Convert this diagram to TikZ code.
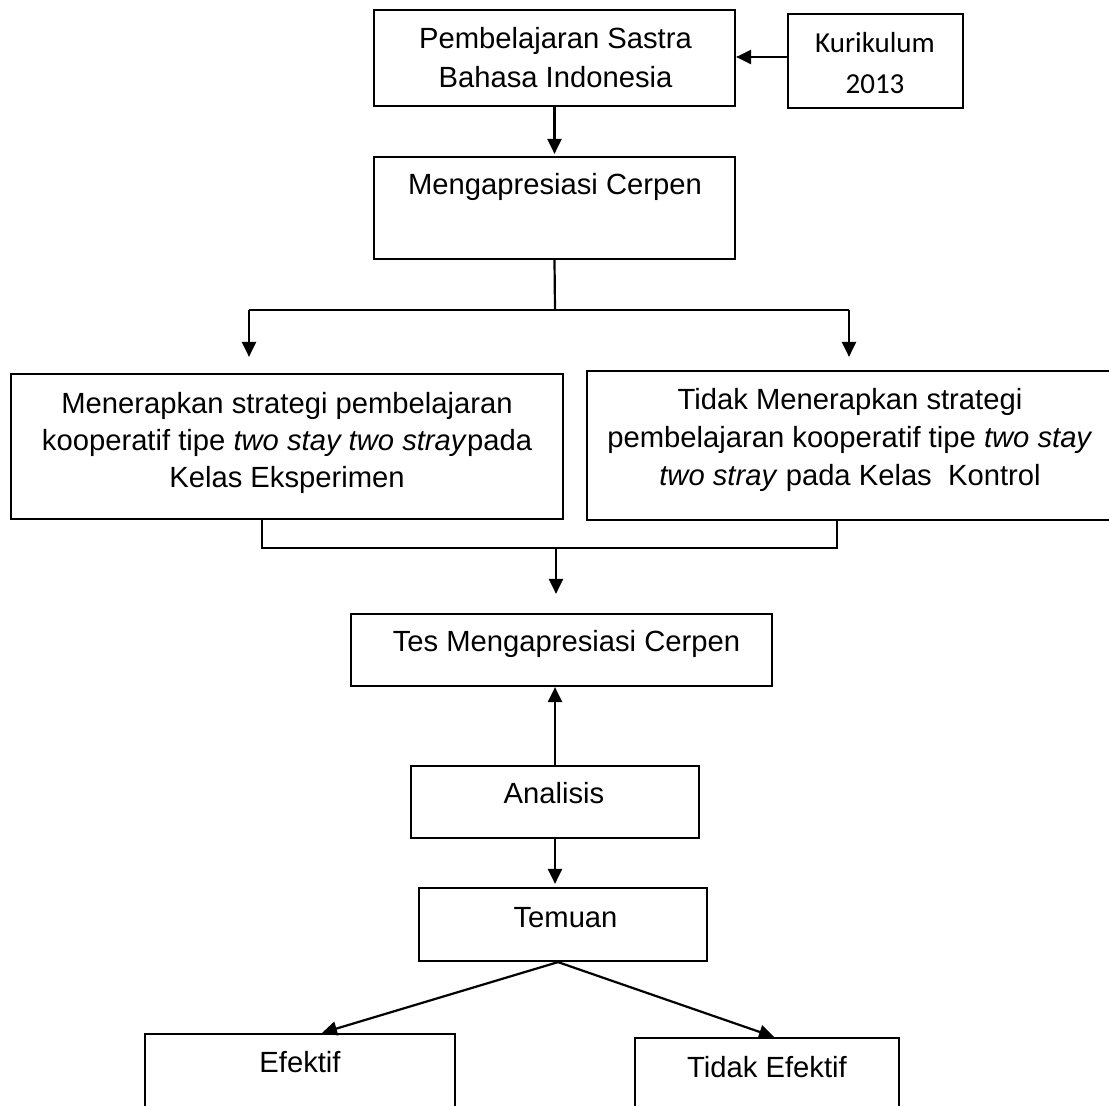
\documentclass[tikz,border=0pt]{standalone}
\usepackage{fontspec}
\setmainfont{Liberation Sans}
\newfontfamily\calibfont{Carlito}
\usetikzlibrary{arrows.meta}
\begin{document}
\begin{tikzpicture}[x=1pt,y=-1pt,
  box/.style={draw, line width=2.2pt, inner sep=0pt},
  lbl/.style={font=\fontsize{29.2}{38}\selectfont, inner sep=0pt, anchor=base},
  klbl/.style={font=\calibfont\fontsize{29}{38}\selectfont, inner sep=0pt, anchor=base},
  ln/.style={line width=2.2pt},
  arr/.style={line width=2.2pt, -{Triangle[length=15pt,width=14pt]}}]
\useasboundingbox (0,0) rectangle (1109,1106);

% boxes
\node[box, minimum width=361pt, minimum height=96pt] (p1) at (554.5,58) {};
\node[box, minimum width=175pt, minimum height=94pt] (k) at (875.5,61) {};
\node[box, minimum width=361pt, minimum height=102pt] (m) at (554.5,208) {};
\node[box, minimum width=552pt, minimum height=145pt] (l) at (287,446.5) {};
\node[box, minimum width=526pt, minimum height=149pt] (r) at (850,445.5) {};
\node[box, minimum width=421pt, minimum height=72pt] (t) at (561.5,650) {};
\node[box, minimum width=288pt, minimum height=72pt] (a) at (555,802) {};
\node[box, minimum width=288pt, minimum height=73pt] (tm) at (563,924.5) {};
\node[box, minimum width=310pt, minimum height=73pt] (e) at (300,1070.5) {};
\node[box, minimum width=264pt, minimum height=80pt] (te) at (767,1078) {};

% texts
\node[lbl] (p1a) at (555.5,48) {Pembelajaran Sastra};
\node[lbl] (p1b) at (555.5,87) {Bahasa Indonesia};
\node[klbl] (ka) at (875,52) {Kurikulum};
\node[klbl] (kb) at (875,93) {2013};
\node[lbl] (ma) at (555,194) {Mengapresiasi Cerpen};
\node[lbl] (la) at (287,413) {Menerapkan strategi pembelajaran};
\node[lbl] (lb) at (287,450) {kooperatif tipe \textit{two stay two stray}pada};
\node[lbl] (lc) at (287,487) {Kelas Eksperimen};
\node[lbl] (ra) at (850,409) {Tidak Menerapkan strategi};
\node[lbl] (rb) at (850,447) {pembelajaran kooperatif tipe \textit{two stay}};
\node[lbl] (rc) at (850,485) {\textit{two stray} pada Kelas\ \ Kontrol};
\node[lbl] (ta) at (566.5,651) {Tes Mengapresiasi Cerpen};
\node[lbl] (aa) at (554,803) {Analisis};
\node[lbl] (tma) at (565.5,927) {Temuan};
\node[lbl] (ea) at (300,1072) {Efektif};
\node[lbl] (tea) at (767,1077) {Tidak Efektif};

% connectors
\draw[arr] ([yshift=4pt]k.west) -- ([yshift=4pt]k.west -| p1.east);
\draw[arr, shorten >=2pt] (p1.south) -- (m.north);

\coordinate (s1) at (555,310);
\coordinate (sl) at (249,310);
\coordinate (sr) at (849,310);
\draw[ln] (m.south) -- (s1);
\draw[ln] (sl) -- (sr);
\draw[arr, shorten >=16pt] (sl) -- (sl |- l.north);
\draw[arr, shorten >=13pt] (sr) -- (sr |- r.north);

\coordinate (jl) at (262,548);
\coordinate (jr) at (837,548);
\coordinate (j) at (556,548);
\draw[ln] (l.south -| jl) -- (jl) -- (jr) -- (r.south -| jr);
\draw[arr, shorten >=19pt] (j) -- (j |- t.north);

\draw[arr] (a.north) -- (a.north |- t.south);
\draw[arr, shorten >=3pt] (a.south) -- (a.south |- tm.north);

\draw[arr] ([xshift=-5pt]tm.south) -- ([xshift=22pt]e.north);
\draw[arr] ([xshift=-5pt]tm.south) -- ([xshift=7pt]te.north);
\end{tikzpicture}
\end{document}
